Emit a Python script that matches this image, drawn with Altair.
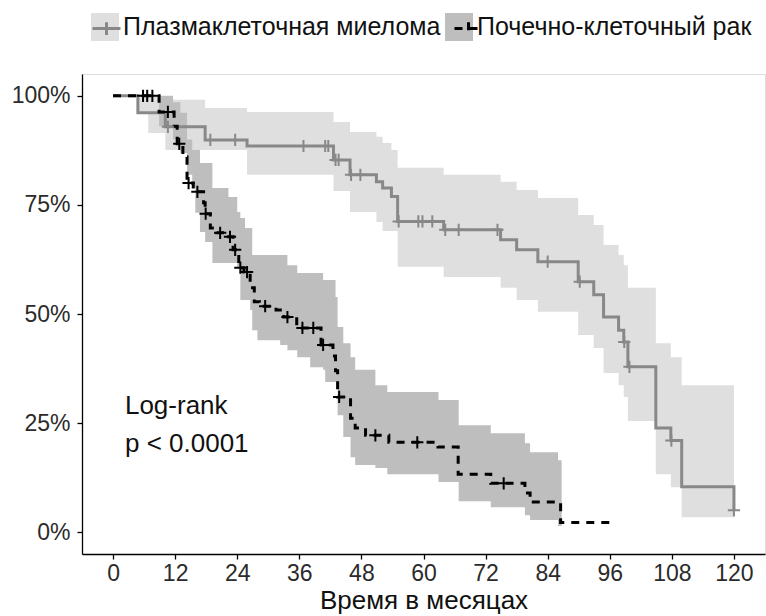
import altair as alt
import pandas as pd

FONT = "Liberation Sans"

groups = ["Плазмаклеточная миелома", "Почечно-клеточный рак"]
keys = ["a", "b"]

# Kaplan-Meier curve: plasma cell myeloma (months, survival)
pm_t = [0, 4.8, 10.1, 17.8, 25.9, 42.6, 45.8, 50.9, 52.1, 53.8, 55.0, 63.9, 74.9, 78.0,
        82.1, 89.9, 92.9, 94.8, 97.7, 98.7, 99.5, 104.9, 107.8, 109.9, 120]
pm_s = [1.0, 0.961, 0.929, 0.899, 0.885, 0.853, 0.819, 0.803, 0.789, 0.769, 0.712, 0.693,
        0.670, 0.647, 0.620, 0.574, 0.544, 0.493, 0.463, 0.436, 0.379, 0.239, 0.210, 0.104, 0.05]
pm_censor = [10.6, 18.8, 23.6, 36.8, 41.0, 41.6, 43.0, 43.6, 46.0, 47.8, 55.2, 59.0, 59.8,
             61.7, 64.2, 66.8, 74.3, 84.0, 90.2, 98.8, 99.8, 107.9, 120]
pm_band_t = [4.8, 6.8, 9.1, 10.1, 17.8, 25.9, 42.6, 45.8, 50.9, 52.1, 53.8, 55.0, 63.9,
             74.9, 78.0, 82.1, 89.9, 92.9, 94.8, 97.7, 98.7, 99.5, 104.9, 107.8, 109.9, 120]
pm_band_lo = [0.961, 0.915, 0.915, 0.876, 0.876, 0.819, 0.782, 0.734, 0.711, 0.690, 0.690,
              0.608, 0.585, 0.56, 0.532, 0.505, 0.452, 0.422, 0.365, 0.337, 0.310, 0.255,
              0.133, 0.103, 0.034, 0.034]
pm_band_hi = [1.0, 1.0, 0.991, 0.991, 0.972, 0.963, 0.94, 0.917, 0.906, 0.892, 0.876, 0.835,
              0.819, 0.803, 0.784, 0.766, 0.727, 0.704, 0.658, 0.635, 0.612, 0.56, 0.433,
              0.401, 0.337, 0.337]

# Kaplan-Meier curve: renal cell carcinoma
rc_t = [0, 8.9, 11.8, 12.4, 13.5, 14.3, 15.5, 17.5, 17.8, 18.8, 20.0, 22.0, 23.2, 24.3,
        25.3, 26.5, 27.3, 28.3, 31.5, 33.0, 35.5, 40.2, 42.5, 43.0, 43.4, 45.9, 46.8, 48.8,
        53.3, 62.8, 66.7, 73.0, 79.6, 80.6, 86.5, 96.0]
rc_s = [1.0, 0.963, 0.93, 0.89, 0.86, 0.80, 0.78, 0.755, 0.73, 0.697, 0.686, 0.677, 0.647,
        0.606, 0.596, 0.56, 0.528, 0.518, 0.509, 0.493, 0.468, 0.429, 0.404, 0.37, 0.31,
        0.261, 0.239, 0.222, 0.206, 0.195, 0.133, 0.112, 0.09, 0.069, 0.022, 0.022]
rc_censor = [5.8, 6.6, 7.6, 10.6, 12.8, 14.6, 16.3, 17.9, 20.7, 22.6, 23.6, 24.6, 25.9,
             29.4, 33.7, 36.6, 38.7, 40.6, 43.7, 50.7, 58.8, 75.5]
rc_band_t = [8.9, 11.6, 13.0, 14.3, 15.3, 15.9, 16.8, 17.8, 19.2, 22.3, 24.0, 24.6, 25.5,
             26.5, 26.9, 27.9, 32.3, 33.7, 35.6, 38.1, 40.6, 41.0, 43.0, 43.4, 44.5, 45.9,
             46.8, 50.7, 53.0, 62.9, 66.8, 73.0, 79.6, 80.6, 86.0, 86.7]
rc_band_lo = [0.93, 0.90, 0.869, 0.819, 0.789, 0.732, 0.688, 0.665, 0.617, 0.617, 0.606,
              0.532, 0.532, 0.509, 0.463, 0.44, 0.429, 0.417, 0.401, 0.378, 0.372, 0.344,
              0.344, 0.268, 0.218, 0.172, 0.154, 0.147, 0.133, 0.115, 0.071, 0.057, 0.039,
              0.028, 0.014, 0.014]
rc_band_hi = [1.0, 0.985, 0.961, 0.90, 0.876, 0.876, 0.846, 0.846, 0.789, 0.768, 0.734,
              0.72, 0.697, 0.697, 0.635, 0.635, 0.635, 0.612, 0.594, 0.594, 0.578, 0.578,
              0.539, 0.47, 0.433, 0.401, 0.372, 0.337, 0.321, 0.303, 0.245, 0.227, 0.204,
              0.183, 0.165, 0.165]

x_ticks = [0, 12, 24, 36, 48, 60, 72, 84, 96, 108, 120]
y_ticks = [0, 0.25, 0.5, 0.75, 1.0]
annot_lines = ["Log-rank", "p < 0.0001"]
annot_x = [2.3, 2.3]
annot_y = [0.29, 0.203]


def step_value(ts, ss, t):
    v = ss[0]
    for ti, si in zip(ts, ss):
        if ti <= t:
            v = si
    return v


curve_rows, band_rows, cens_rows = [], [], []
for g, k, ts, ss, cs, bt, bl, bh in [
    (groups[0], keys[0], pm_t, pm_s, pm_censor, pm_band_t, pm_band_lo, pm_band_hi),
    (groups[1], keys[1], rc_t, rc_s, rc_censor, rc_band_t, rc_band_lo, rc_band_hi),
]:
    for t, s in zip(ts, ss):
        curve_rows.append({"group": g, "key": k, "t": t, "s": s})
    for t, lo, hi in zip(bt, bl, bh):
        band_rows.append({"group": g, "key": k, "t": t, "lo": lo, "hi": hi})
    for t in cs:
        cens_rows.append({"group": g, "key": k, "t": t, "s": step_value(ts, ss, t)})

curves = pd.DataFrame(curve_rows)
bands = pd.DataFrame(band_rows)
cens = pd.DataFrame(cens_rows)
annot = pd.DataFrame({"t": annot_x, "s": annot_y, "label": annot_lines})

x_scale = alt.Scale(domain=[-6, 126], nice=False, zero=False)
y_scale = alt.Scale(domain=[-0.05, 1.05], nice=False, zero=False)

x_axis = alt.Axis(values=x_ticks, title="Время в месяцах", grid=False, labelFontSize=23,
                  titleFontSize=26, labelColor="#2b2b2b", titleColor="#111111",
                  titleFontWeight="normal", domainColor="#000000", tickColor="#000000",
                  domainWidth=1.3, tickWidth=1.3, tickSize=5, labelPadding=3,
                  titlePadding=2, labelFont=FONT, titleFont=FONT)
y_axis = alt.Axis(values=y_ticks, format=".0%", title=None, grid=False, labelFontSize=23,
                  labelColor="#2b2b2b", domainColor="#000000", tickColor="#000000",
                  domainWidth=1.3, tickWidth=1.3, tickSize=5, labelPadding=7,
                  labelFont=FONT)

LEG_X, LEG_Y = 9, -61
LABEL_OFFSET, COL_PAD = 4, 4
FIRST_LABEL_W = 317  # rendered width of the first legend label

band = alt.Chart(bands).mark_area(interpolate="step-after", opacity=1).encode(
    x=alt.X("t:Q", scale=x_scale, axis=x_axis),
    y=alt.Y("lo:Q", scale=y_scale, axis=y_axis),
    y2="hi:Q",
    fill=alt.Fill("group:N", scale=alt.Scale(domain=groups, range=["#DFDFDF", "#BEBEBE"]),
                  legend=alt.Legend(orient="none", legendX=LEG_X, legendY=LEG_Y,
                                    direction="horizontal", title=None,
                                    symbolType="square", symbolSize=784,
                                    symbolOpacity=1, symbolStrokeWidth=0,
                                    labelFontSize=25, labelFont=FONT, labelColor="#111111",
                                    labelOffset=LABEL_OFFSET, columnPadding=COL_PAD,
                                    labelLimit=500)),
)

lines = alt.Chart(curves).mark_line(interpolate="step-after", strokeWidth=3).encode(
    x=alt.X("t:Q", scale=x_scale),
    y=alt.Y("s:Q", scale=y_scale),
    stroke=alt.Stroke("key:N", scale=alt.Scale(domain=keys, range=["#888888", "#000000"]),
                      legend=alt.Legend(orient="none", legendX=LEG_X, legendY=LEG_Y,
                                        direction="horizontal", title=None,
                                        symbolType="M-1,0H1M0,-0.45V0.45", symbolSize=784,
                                        symbolStrokeWidth=3, symbolFillColor="transparent",
                                        labelExpr="''", labelFontSize=1,
                                        labelOffset=LABEL_OFFSET,
                                        columnPadding=COL_PAD + FIRST_LABEL_W)),
    strokeDash=alt.StrokeDash("key:N", scale=alt.Scale(domain=keys, range=[[1, 0], [8, 7]]),
                              legend=None),
)

points = alt.Chart(cens).mark_point(shape="M-1,0H1M0,-1V1", filled=False, size=150,
                                    strokeWidth=2, opacity=1).encode(
    x=alt.X("t:Q", scale=x_scale),
    y=alt.Y("s:Q", scale=y_scale),
    stroke=alt.condition(alt.datum.key == "a", alt.value("#888888"), alt.value("#000000")),
)

text = alt.Chart(annot).mark_text(align="left", baseline="middle", fontSize=26,
                                  font=FONT, color="#111111").encode(
    x=alt.X("t:Q", scale=x_scale),
    y=alt.Y("s:Q", scale=y_scale),
    text="label:N",
)

chart = alt.layer(band, lines, points, text).properties(
    width=683, height=480,
    padding={"left": 82, "top": 74, "right": 1, "bottom": 62},
    autosize=alt.AutoSizeParams(type="none"),
).configure_view(stroke=None).configure(font=FONT, background="white")

chart.save("out.html", embed_options={"renderer": "svg", "actions": False})
